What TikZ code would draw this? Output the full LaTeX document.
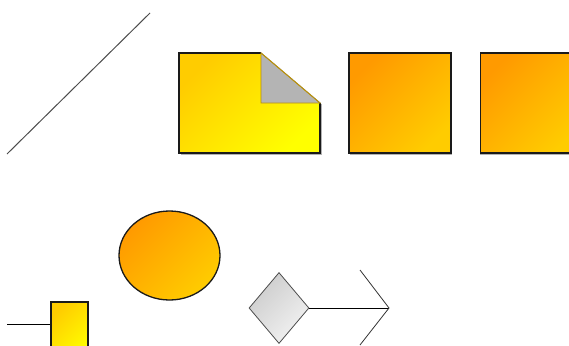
\documentclass[tikz,border=0pt]{standalone}
\usetikzlibrary{calc,positioning,shapes.geometric}
\definecolor{ShapeOrange}{HTML}{FF9A00}
\definecolor{ShapeAmber}{HTML}{FFCC00}
\definecolor{ShapeYellow}{HTML}{FFFF00}
\definecolor{FoldGray}{HTML}{B4B4B4}
\definecolor{FoldEdge}{HTML}{B8900C}
\definecolor{EdgeDark}{HTML}{1A1A1A}

\begin{document}
\begin{tikzpicture}[x=1pt,y=-1pt,
      block/.style={draw=EdgeDark,line width=1.3pt,inner sep=0pt,top color=ShapeOrange,bottom color=ShapeAmber,shading angle=45},
      yellowblock/.style={block,top color=ShapeAmber,bottom color=ShapeYellow,shading angle=45},
      choice/.style={diamond,draw=black!70,line width=0.8pt,inner sep=0pt,top color=black!20,bottom color=black!5,shading angle=45},
      wire/.style={draw=black,line width=0.9pt},
      shade/.style={draw=black!30,line width=1.2pt}
    ]
      \useasboundingbox (0,0) rectangle (569,345);

      % free diagonal line
      \coordinate (lineA) at (7,154);
      \coordinate (lineB) at (150,13);
      \draw[black!70,line width=1pt] (lineA) -- (lineB);

      % folded document
      \coordinate (docNW) at (179,53);
      \coordinate (docFold) at (261,53);
      \coordinate (docTurn) at (320,103);
      \coordinate (docSE) at (320,153);
      \draw[shade] ($(docSE)+(1.5,-49)$) -- ($(docSE)+(1.5,1.5)$) -- ($(docNW|-docSE)+(1.5,1.5)$);
      \shade[top color=ShapeAmber,bottom color=ShapeYellow,shading angle=45]
        (docNW) -- (docFold) -- (docTurn) -- (docSE) -- (docNW|-docSE) -- cycle;
      \draw[EdgeDark,line width=1.3pt] (docFold) -- (docNW) -- (docNW|-docSE) -- (docSE) -- (docTurn);
      \filldraw[fill=FoldGray,draw=FoldEdge,line width=0.8pt] (docFold) -- (docFold|-docTurn) -- (docTurn) -- cycle;
      \draw[FoldEdge,line width=0.8pt] (docFold) -- (docTurn);

      % orange squares
      \draw[shade] (451.5,55) -- (451.5,154.5) -- (350,154.5);
      \draw[shade] (480,154.5) -- (569,154.5);
      \node[block,minimum width=102pt,minimum height=100pt] (sqA) at (400,103) {};
      \node[block,minimum width=102pt,minimum height=100pt,right=28pt of sqA] (sqB) {};

      % circle
      \node[block,ellipse,minimum width=101pt,minimum height=89pt] (blob) at (169.5,255.5) {};

      % small yellow box with lead
      \node[yellowblock,minimum width=37pt,minimum height=60pt] (box) at (69.5,332) {};
      \coordinate (lead) at (7,324);
      \draw[wire] (lead) -- (lead-|box.west);

      % decision with open arrow
      \node[choice,minimum width=60pt,minimum height=71pt] (dia) at (279,308) {};
      \coordinate (tip) at (389,308);
      \draw[wire] (dia.east) -- (tip);
      \draw[black!80,line width=0.8pt] ($(tip)+(-29,-38)$) -- (tip) -- ($(tip)+(-29,37)$);
    \end{tikzpicture}
\end{document}
